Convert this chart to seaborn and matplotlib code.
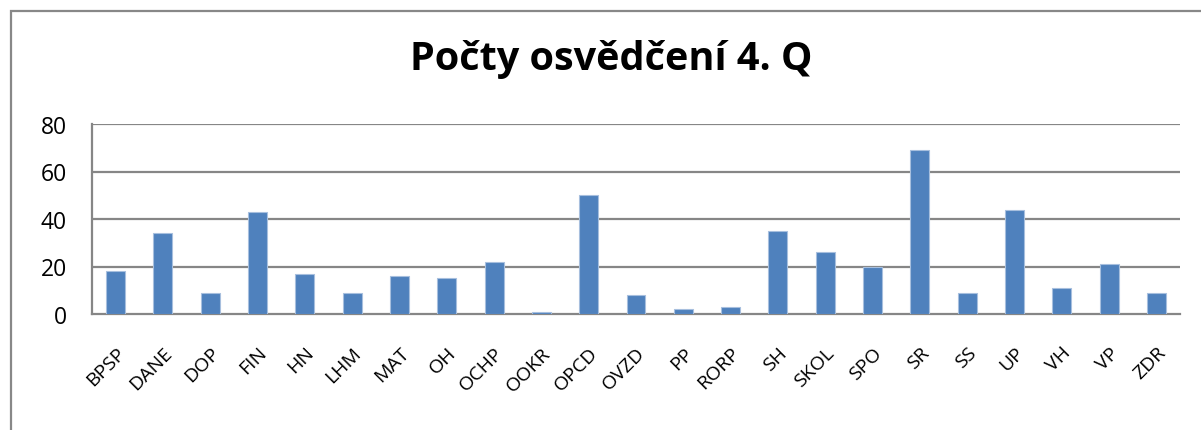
import matplotlib
matplotlib.use("Agg")
import matplotlib.pyplot as plt
import seaborn as sns
import pandas as pd
from matplotlib.patches import Rectangle

categories = ["BPSP", "DANE", "DOP", "FIN", "HN", "LHM", "MAT", "OH", "OCHP", "OOKR",
              "OPCD", "OVZD", "PP", "RORP", "SH", "SKOL", "SPO", "SR", "SS", "UP",
              "VH", "VP", "ZDR"]
values = [18, 34, 9, 43, 17, 9, 16, 15, 22, 1, 50, 8, 2, 3, 35, 26, 20, 69, 9, 44, 11, 21, 9]
yticks = [0, 20, 40, 60, 80]
title = "Počty osvědčení 4. Q"

sns.set_theme(style="white")
plt.rcParams['font.family'] = ['Open Sans', 'DejaVu Sans']

df = pd.DataFrame({"cat": categories, "val": values})

fig = plt.figure(figsize=(12.01, 4.31), dpi=100)
W, H = 1201, 431
ax = fig.add_axes([92 / W, 1 - 315 / H, (1180 - 92) / W, (315 - 125) / H])

sns.barplot(data=df, x="cat", y="val", ax=ax, color="#4F81BD", width=0.4,
            saturation=1, edgecolor="#A7BFDE", linewidth=0.8, zorder=3)

ax.set_ylim(0, 80)
ax.set_xlim(-0.5, len(categories) - 0.5)
ax.set_yticks(yticks)
ax.set_yticklabels([str(t) for t in yticks], fontsize=16.5, color="black")
ax.set_xticks(range(len(categories)))
ax.set_xticklabels(categories, rotation=45, ha="right", rotation_mode="anchor",
                   fontsize=14, color="black")
ax.tick_params(axis="x", length=0, pad=21)
ax.tick_params(axis="y", length=0, pad=18)
ax.set_xlabel("")
ax.set_ylabel("")
for y in yticks[1:]:
    ax.axhline(y, color="#868686", lw=1.6, zorder=1)
for s in ["top", "right"]:
    ax.spines[s].set_visible(False)
for s in ["left", "bottom"]:
    ax.spines[s].set_color("#868686")
    ax.spines[s].set_linewidth(1.6)

fig.text(611 / W, 1 - 70 / H, title, ha="center", va="baseline",
         fontsize=28.5, fontweight="bold", color="black")

fig.patches.append(Rectangle((11 / W, -0.1), 1.2, 1 - 12 / H + 0.1,
                             transform=fig.transFigure, fill=False,
                             edgecolor="#888888", lw=1.6))

fig.savefig("out.png", dpi=100)
